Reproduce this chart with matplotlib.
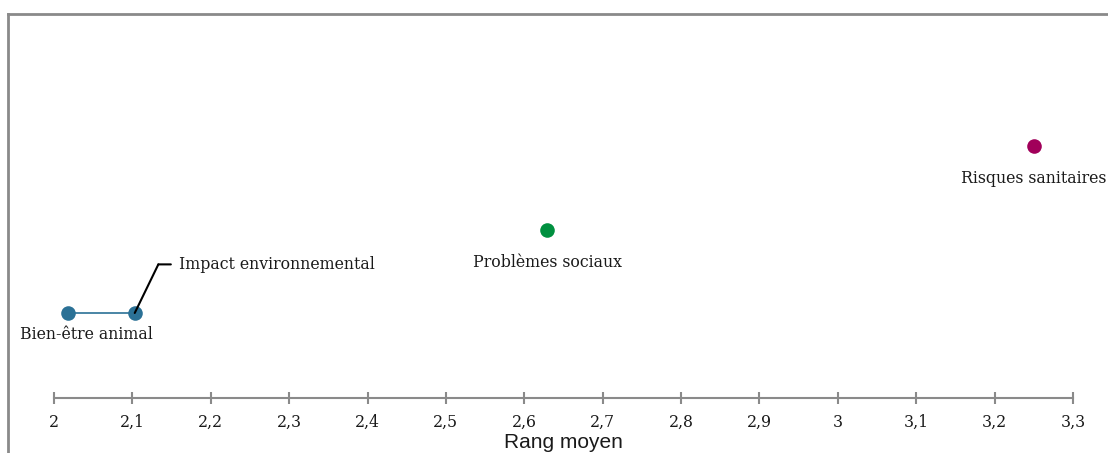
import matplotlib
matplotlib.use("Agg")
import matplotlib.pyplot as plt
from matplotlib.lines import Line2D
from matplotlib.transforms import offset_copy

categories = ["Bien-être animal", "Impact environnemental", "Problèmes sociaux", "Risques sanitaires"]
rang_moyen = [2.018, 2.103, 2.629, 3.25]
levels = [1, 1, 2, 3]
colors = ["#2B7196", "#2B7196", "#00903F", "#A1005A"]
tick_values = [2.0, 2.1, 2.2, 2.3, 2.4, 2.5, 2.6, 2.7, 2.8, 2.9, 3.0, 3.1, 3.2, 3.3]
tick_labels = ["2", "2,1", "2,2", "2,3", "2,4", "2,5", "2,6", "2,7", "2,8", "2,9", "3", "3,1", "3,2", "3,3"]
xlabel = "Rang moyen"

W, H, DPI = 1108, 453, 100
fig = plt.figure(figsize=(W / DPI, H / DPI), dpi=DPI)
ax = fig.add_axes([0, 0, 1, 1])
ax.patch.set_alpha(0)

px_per_unit = (1073 - 54) / 1.3
ax.set_xlim(2.0 - 54 / px_per_unit, 2.0 + (W - 54) / px_per_unit)
ypu = 83.5
y1_px = 313
ax.set_ylim(1 - (H - y1_px) / ypu, 1 + y1_px / ypu)
axis_y = 1 - (398 - y1_px) / ypu

serif = ["DejaVu Serif"]
sans = ["Liberation Sans", "DejaVu Sans"]
grey = "#8A8A8A"
txt = "#1a1a1a"
FS = 11.3

for s in ["top", "right", "left"]:
    ax.spines[s].set_visible(False)
ax.spines["bottom"].set_position(("data", axis_y))
ax.spines["bottom"].set_bounds(2.0, 3.3)
ax.spines["bottom"].set_color(grey)
ax.spines["bottom"].set_linewidth(1.5)
ax.set_yticks([])
ax.set_xticks(tick_values)
ax.set_xticklabels(tick_labels, fontfamily=serif, fontsize=FS, color=txt)
for lab in ax.get_xticklabels():
    lab.set_va("baseline")
ax.tick_params(axis="x", direction="inout", length=9, width=1.5, color=grey, pad=16.5)

# connecting line between the two blue points
ax.plot(rang_moyen[0:2], levels[0:2], color=colors[0], lw=1.2, zorder=2)
for xv, yv, c in zip(rang_moyen, levels, colors):
    ax.plot([xv], [yv], "o", color=c, markersize=10.5, markeredgewidth=0, zorder=3)

# labels below points
label_offsets = {0: (13, -15.5), 2: (0, -24), 3: (0, -23.5)}
for i, (dx, dy) in label_offsets.items():
    ax.annotate(categories[i], (rang_moyen[i], levels[i]), xytext=(dx, dy),
                textcoords="offset points", ha="center", va="center",
                fontfamily=serif, fontsize=FS, color=txt)

# leader line label for Impact environnemental
ax.annotate(categories[1], (rang_moyen[1], levels[1]), xytext=(32, 35),
            textcoords="offset points", ha="left", va="center",
            fontfamily=serif, fontsize=FS, color=txt)
ax.annotate("", (rang_moyen[1], levels[1]), xytext=(17, 35), textcoords="offset points",
            arrowprops=dict(arrowstyle="-", color="black", lw=1.5, shrinkA=0, shrinkB=0))
tr = offset_copy(ax.transData, fig=fig, x=17, y=35, units="points")
tr2 = offset_copy(ax.transData, fig=fig, x=26, y=35, units="points")
ax.annotate("", xy=(rang_moyen[1], levels[1]), xycoords=tr2,
            xytext=(rang_moyen[1], levels[1]), textcoords=tr,
            arrowprops=dict(arrowstyle="-", color="black", lw=1.5, shrinkA=0, shrinkB=0))

fig.text(563 / W, 1 - 442 / H, xlabel, ha="center", va="center",
         fontfamily=sans, fontsize=15, color=txt)

# figure frame (top and left)
fig.add_artist(Line2D([8 / W, 1], [1 - 14 / H, 1 - 14 / H], transform=fig.transFigure,
                      color=grey, lw=2))
fig.add_artist(Line2D([8 / W, 8 / W], [0, 1 - 14 / H], transform=fig.transFigure,
                      color=grey, lw=2))

fig.savefig("out.png", dpi=DPI)
